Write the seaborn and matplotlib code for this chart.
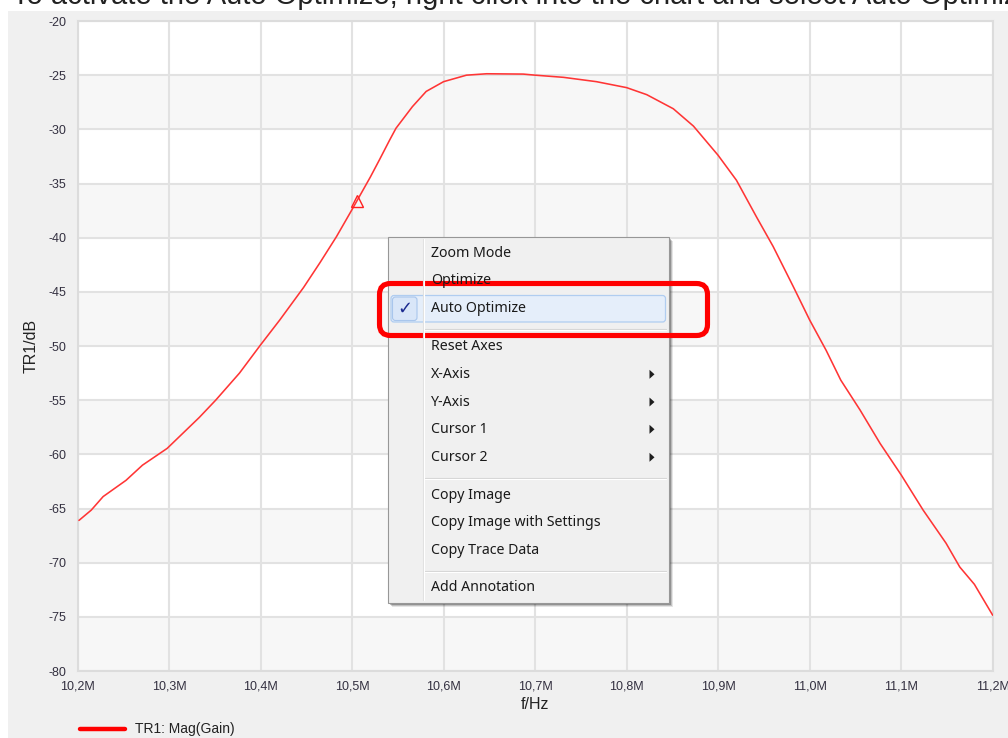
import matplotlib
matplotlib.use("Agg")
import matplotlib.pyplot as plt
import seaborn as sns
import pandas as pd
from matplotlib.patches import FancyBboxPatch, Rectangle, Polygon
from matplotlib.ticker import MultipleLocator
from matplotlib.lines import Line2D

# ---------------- data ----------------
freq_mhz = [10.2016, 10.215, 10.228, 10.253, 10.271, 10.298, 10.333, 10.351,
            10.377, 10.400, 10.421, 10.447, 10.465, 10.483, 10.500, 10.520,
            10.530, 10.541, 10.548, 10.566, 10.581, 10.600, 10.625, 10.647,
            10.687, 10.700, 10.731, 10.767, 10.800, 10.822, 10.851,
            10.873, 10.900, 10.920, 10.942, 10.960, 10.982, 11.000, 11.018,
            11.034, 11.055, 11.077, 11.100, 11.124, 11.149, 11.164, 11.180,
            11.200]
gain_db = [-66.1, -65.15, -63.9, -62.4, -61.0, -59.45, -56.6, -55.0,
           -52.5, -49.9, -47.6, -44.6, -42.3, -39.9, -37.4, -34.4,
           -32.8, -31.0, -29.9, -27.9, -26.5, -25.6, -25.0, -24.87,
           -24.9, -25.0, -25.2, -25.6, -26.15, -26.8, -28.1,
           -29.7, -32.4, -34.7, -38.1, -40.8, -44.5, -47.6, -50.4,
           -53.15, -55.9, -59.0, -61.9, -65.15, -68.2, -70.4, -72.0,
           -74.85]
cursor_freq_mhz = [10.505]
cursor_gain_db = [-36.6]

x_ticks = [10.2, 10.3, 10.4, 10.5, 10.6, 10.7, 10.8, 10.9, 11.0, 11.1, 11.2]
x_tick_labels = ["10,2M", "10,3M", "10,4M", "10,5M", "10,6M", "10,7M",
                 "10,8M", "10,9M", "11,0M", "11,1M", "11,2M"]
y_ticks = [-80, -75, -70, -65, -60, -55, -50, -45, -40, -35, -30, -25, -20]
y_tick_labels = ["-80", "-75", "-70", "-65", "-60", "-55", "-50", "-45",
                 "-40", "-35", "-30", "-25", "-20"]

x_label = "f/Hz"
y_label = "TR1/dB"
legend_label = "TR1: Mag(Gain)"
header_text = "To activate the Auto Optimize, right click into the chart and select Auto Optimize"

menu_items = ["Zoom Mode", "Optimize", "Auto Optimize", "Reset Axes", "X-Axis",
              "Y-Axis", "Cursor 1", "Cursor 2", "Copy Image",
              "Copy Image with Settings", "Copy Trace Data", "Add Annotation"]
menu_has_submenu = [False, False, False, False, True, True, True, True,
                    False, False, False, False]

df = pd.DataFrame({"f": freq_mhz, "g": gain_db})

# ---------------- style ----------------
sns.set_style("white")
plt.rcParams['font.family'] = ['Liberation Sans', 'DejaVu Sans']

W, H = 1008, 738
fig = plt.figure(figsize=(W / 100, H / 100), dpi=100)
fig.patch.set_facecolor("white")

# background panel (pixel coordinates)
bg = fig.add_axes([0, 0, 1, 1], zorder=0)
bg.set_xlim(0, W)
bg.set_ylim(H, 0)
bg.axis("off")
bg.text(12, 4, header_text, fontsize=21, color="#222222", va="baseline", ha="left",
        family=["Liberation Sans", "DejaVu Sans"], zorder=1)
bg.add_patch(Rectangle((8, 11), W - 8, H - 11, facecolor="#f0f0f0",
                       edgecolor="none", zorder=2))

# main plot axes
L, R, T, B = 77.5, 992.7, 21, 671
ax = fig.add_axes([L / W, 1 - B / H, (R - L) / W, (B - T) / H], zorder=1)
ax.set_facecolor("white")

# alternating bands
for lo, hi in zip(y_ticks[:-1], y_ticks[1:]):
    if (lo // 5) % 2 == 0:
        ax.axhspan(lo, hi, facecolor="#f7f7f7", edgecolor="none", zorder=0)

sns.lineplot(data=df, x="f", y="g", ax=ax, color="#ff3535", linewidth=1.15,
             estimator=None, sort=True, zorder=3)
ax.plot(cursor_freq_mhz, cursor_gain_db, linestyle="none", marker="^",
        markersize=8, markerfacecolor="none", markeredgecolor="#ff2020",
        markeredgewidth=1.0, zorder=4)

ax.set_xlim(x_ticks[0], x_ticks[-1])
ax.set_ylim(y_ticks[0], y_ticks[-1])
ax.set_xticks(x_ticks)
ax.set_xticklabels(x_tick_labels)
ax.set_yticks(y_ticks)
ax.set_yticklabels(y_tick_labels)
ax.xaxis.set_minor_locator(MultipleLocator(0.02))
ax.yaxis.set_minor_locator(MultipleLocator(1))
ax.tick_params(axis="both", which="major", length=0, labelsize=9, labelcolor="#333040")
ax.tick_params(axis="x", which="major", pad=7)
ax.tick_params(axis="y", which="major", pad=8)
ax.tick_params(axis="both", which="minor", direction="in", length=5.5,
               width=1.0, color="#cfcfcf")
ax.grid(True, which="major", color="#e2e2e2", linewidth=1.5, zorder=1)
ax.set_axisbelow(True)
for s in ax.spines.values():
    s.set_color("#dcdcdc")
    s.set_linewidth(1.5)
ax.set_xlabel(x_label, fontsize=11.5, color="#222222", labelpad=3)
ax.set_ylabel(y_label, fontsize=11.5, color="#222222", labelpad=7)

# overlay (menu, legend) in pixel coordinates
ov = fig.add_axes([0, 0, 1, 1], zorder=5)
ov.set_xlim(0, W)
ov.set_ylim(H, 0)
ov.axis("off")
ov.patch.set_alpha(0)

# legend
ov.add_line(Line2D([80, 125], [729, 729], color="#ff0000", linewidth=3.2))
ov.text(135, 729, legend_label, fontsize=10, color="#222222", va="center", ha="left")

# context menu
mx0, my0, mx1, my1 = 387.5, 236.5, 668.5, 602.5
for off, a in [(4, 0.10), (3, 0.16), (2, 0.24)]:
    ov.add_patch(Rectangle((mx0 + off, my0 + off), mx1 - mx0, my1 - my0,
                           facecolor="#000000", alpha=a, edgecolor="none"))
ov.add_patch(Rectangle((mx0, my0), mx1 - mx0, my1 - my0, facecolor="#f0f0f0",
                       edgecolor="#979797", linewidth=0.8))
ov.add_line(Line2D([423, 423], [239, 600], color="#e0e0e0", linewidth=0.8))
ov.add_line(Line2D([424, 424], [239, 600], color="#ffffff", linewidth=0.8))

item_y = [253.3, 280.7, 309, 346.7, 374.3, 402, 429.3, 457.3, 495.3, 522.7, 550, 587.7]
# highlight for Auto Optimize
ov.add_patch(FancyBboxPatch((391, 295.5), 274.5, 26.5,
                            boxstyle="round,pad=0,rounding_size=3",
                            facecolor="#e5eefa", edgecolor="#b0cdf0", linewidth=0.9))
ov.add_patch(FancyBboxPatch((392.5, 297), 24.5, 23.5,
                            boxstyle="round,pad=0,rounding_size=3",
                            facecolor="#d9e6f8", edgecolor="#a9c6ec", linewidth=0.8))
ov.text(404.5, 309, "\u2713", fontsize=13, color="#1b2a8f", ha="center", va="center",
        family=["DejaVu Sans"], fontweight="bold")

for sep_y in [329, 477.5, 570.5]:
    ov.add_line(Line2D([425, 666], [sep_y, sep_y], color="#d5d5d5", linewidth=0.8))
    ov.add_line(Line2D([425, 666], [sep_y + 1, sep_y + 1], color="#ffffff", linewidth=0.8))

for label, yy, sub in zip(menu_items, item_y, menu_has_submenu):
    ov.text(431, yy, label, fontsize=10.2, color="#1a1a1a", va="center", ha="left",
            family=["Noto Sans", "DejaVu Sans"])
    if sub:
        ov.add_patch(Polygon([(649.5, yy - 4.5), (649.5, yy + 4.5), (654.5, yy)],
                             closed=True, facecolor="#1e1e1e", edgecolor="none"))

# red highlight frame
ov.add_patch(FancyBboxPatch((379.5, 283.5), 328, 52,
                            boxstyle="round,pad=0,rounding_size=11",
                            fill=False, edgecolor="#ff0000", linewidth=3.7))

fig.savefig("out.png", dpi=100)
